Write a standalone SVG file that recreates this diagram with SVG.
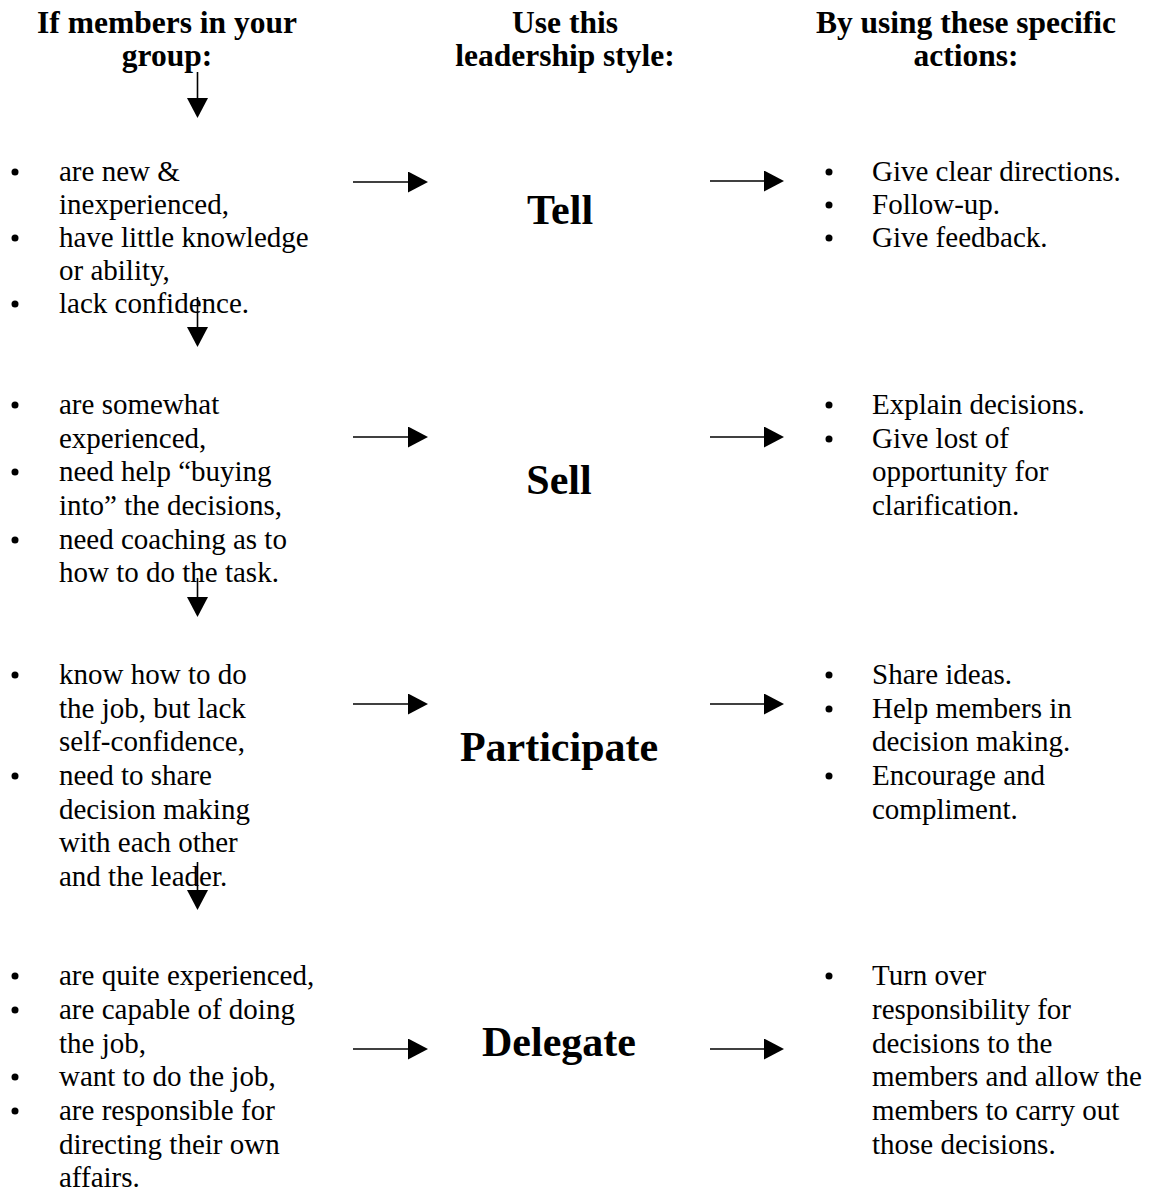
<svg xmlns="http://www.w3.org/2000/svg" width="1151" height="1193" viewBox="0 0 1151 1193">
<defs>
<style>
.hd{font-family:"Liberation Serif","Times New Roman",serif;font-weight:bold;font-size:31.5px;fill:#000;text-anchor:middle}
.bd{font-family:"Liberation Serif","Times New Roman",serif;font-size:29px;fill:#000}
.big{font-family:"Liberation Serif","Times New Roman",serif;font-weight:bold;font-size:42px;fill:#000;text-anchor:middle}
.bl{fill:#000}
.ln{stroke:#000;stroke-width:1.6;fill:none}
</style>
<marker id="ah" viewBox="0 0 20 21" refX="0" refY="10.5" markerWidth="20" markerHeight="21" markerUnits="userSpaceOnUse" orient="auto">
<path d="M0,0 L20,10.5 L0,21 Z" fill="#000"/>
</marker>
</defs>
<rect width="1151" height="1193" fill="#fff"/>

<g id="headers">
<text class="hd" x="167" y="33">If members in your</text>
<text class="hd" x="167" y="66">group:</text>
<text class="hd" x="565" y="33">Use this</text>
<text class="hd" x="565" y="66">leadership style:</text>
<text class="hd" x="966" y="33">By using these specific</text>
<text class="hd" x="966" y="66">actions:</text>
</g>

<g id="members-1">
<circle class="bl" cx="15" cy="172" r="3.5"/>
<circle class="bl" cx="15" cy="238" r="3.5"/>
<circle class="bl" cx="15" cy="304" r="3.5"/>
<text class="bd" x="59" y="181">are new &amp;</text>
<text class="bd" x="59" y="214">inexperienced,</text>
<text class="bd" x="59" y="247">have little knowledge</text>
<text class="bd" x="59" y="280">or ability,</text>
<text class="bd" x="59" y="313">lack confidence.</text>
</g>

<g id="members-2">
<circle class="bl" cx="15" cy="405" r="3.5"/>
<circle class="bl" cx="15" cy="472" r="3.5"/>
<circle class="bl" cx="15" cy="540" r="3.5"/>
<text class="bd" x="59" y="414">are somewhat</text>
<text class="bd" x="59" y="448">experienced,</text>
<text class="bd" x="59" y="481">need help “buying</text>
<text class="bd" x="59" y="515">into” the decisions,</text>
<text class="bd" x="59" y="549">need coaching as to</text>
<text class="bd" x="59" y="582">how to do the task.</text>
</g>

<g id="members-3">
<circle class="bl" cx="15" cy="675" r="3.5"/>
<circle class="bl" cx="15" cy="776" r="3.5"/>
<text class="bd" x="59" y="684">know how to do</text>
<text class="bd" x="59" y="718">the job, but lack</text>
<text class="bd" x="59" y="751">self-confidence,</text>
<text class="bd" x="59" y="785">need to share</text>
<text class="bd" x="59" y="819">decision making</text>
<text class="bd" x="59" y="852">with each other</text>
<text class="bd" x="59" y="886">and the leader.</text>
</g>

<g id="members-4">
<circle class="bl" cx="15" cy="976" r="3.5"/>
<circle class="bl" cx="15" cy="1010" r="3.5"/>
<circle class="bl" cx="15" cy="1077" r="3.5"/>
<circle class="bl" cx="15" cy="1111" r="3.5"/>
<text class="bd" x="59" y="985">are quite experienced,</text>
<text class="bd" x="59" y="1019">are capable of doing</text>
<text class="bd" x="59" y="1053">the job,</text>
<text class="bd" x="59" y="1086">want to do the job,</text>
<text class="bd" x="59" y="1120">are responsible for</text>
<text class="bd" x="59" y="1154">directing their own</text>
<text class="bd" x="59" y="1187">affairs.</text>
</g>

<g id="style-tell"><text class="big" x="560" y="224">Tell</text></g>
<g id="style-sell"><text class="big" x="559" y="494">Sell</text></g>
<g id="style-participate"><text class="big" x="559" y="761">Participate</text></g>
<g id="style-delegate"><text class="big" x="559" y="1056">Delegate</text></g>

<g id="actions-1">
<circle class="bl" cx="829" cy="172" r="3.5"/>
<circle class="bl" cx="829" cy="205" r="3.5"/>
<circle class="bl" cx="829" cy="238" r="3.5"/>
<text class="bd" x="872" y="181">Give clear directions.</text>
<text class="bd" x="872" y="214">Follow-up.</text>
<text class="bd" x="872" y="247">Give feedback.</text>
</g>

<g id="actions-2">
<circle class="bl" cx="829" cy="405" r="3.5"/>
<circle class="bl" cx="829" cy="439" r="3.5"/>
<text class="bd" x="872" y="414">Explain decisions.</text>
<text class="bd" x="872" y="448">Give lost of</text>
<text class="bd" x="872" y="481">opportunity for</text>
<text class="bd" x="872" y="515">clarification.</text>
</g>

<g id="actions-3">
<circle class="bl" cx="829" cy="675" r="3.5"/>
<circle class="bl" cx="829" cy="709" r="3.5"/>
<circle class="bl" cx="829" cy="776" r="3.5"/>
<text class="bd" x="872" y="684">Share ideas.</text>
<text class="bd" x="872" y="718">Help members in</text>
<text class="bd" x="872" y="751">decision making.</text>
<text class="bd" x="872" y="785">Encourage and</text>
<text class="bd" x="872" y="819">compliment.</text>
</g>

<g id="actions-4">
<circle class="bl" cx="829" cy="976" r="3.5"/>
<text class="bd" x="872" y="985">Turn over</text>
<text class="bd" x="872" y="1019">responsibility for</text>
<text class="bd" x="872" y="1053">decisions to the</text>
<text class="bd" x="872" y="1086">members and allow the</text>
<text class="bd" x="872" y="1120">members to carry out</text>
<text class="bd" x="872" y="1154">those decisions.</text>
</g>

<g id="connectors">
<line class="ln" x1="197.5" y1="72" x2="197.5" y2="98" marker-end="url(#ah)"/>
<line class="ln" x1="197.5" y1="297" x2="197.5" y2="327" marker-end="url(#ah)"/>
<line class="ln" x1="197.5" y1="578" x2="197.5" y2="597" marker-end="url(#ah)"/>
<line class="ln" x1="197.5" y1="862" x2="197.5" y2="890" marker-end="url(#ah)"/>

<line class="ln" x1="353" y1="182" x2="408" y2="182" marker-end="url(#ah)"/>
<line class="ln" x1="710" y1="181" x2="764" y2="181" marker-end="url(#ah)"/>
<line class="ln" x1="353" y1="437" x2="408" y2="437" marker-end="url(#ah)"/>
<line class="ln" x1="710" y1="437" x2="764" y2="437" marker-end="url(#ah)"/>
<line class="ln" x1="353" y1="704" x2="408" y2="704" marker-end="url(#ah)"/>
<line class="ln" x1="710" y1="704" x2="764" y2="704" marker-end="url(#ah)"/>
<line class="ln" x1="353" y1="1049" x2="408" y2="1049" marker-end="url(#ah)"/>
<line class="ln" x1="710" y1="1049" x2="764" y2="1049" marker-end="url(#ah)"/>
</g>
</svg>
